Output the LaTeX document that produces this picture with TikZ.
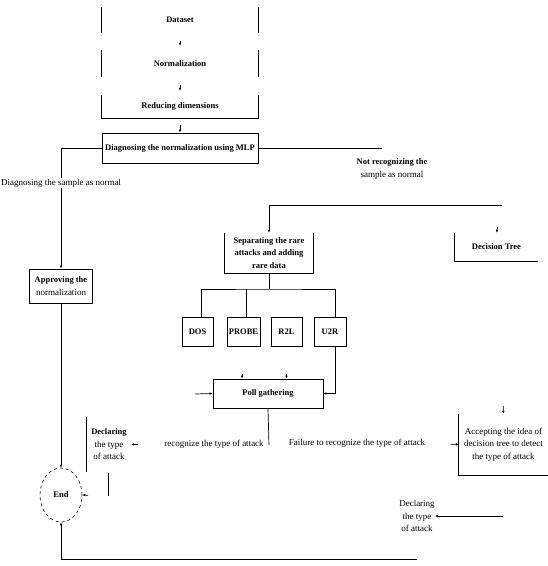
\documentclass[tikz,border=0pt]{standalone}
\usepackage{fontspec}
\setmainfont{Liberation Serif}
\usetikzlibrary{shapes.geometric,arrows.meta}
\newcommand\mdt{\fontsize{9}{12.5}\selectfont\mdseries}
\begin{document}
\begin{tikzpicture}[x=1pt,y=-1pt,
  every node/.style={font=\fontsize{8.5}{12.5}\selectfont\bfseries, inner sep=0pt, align=center},
  box/.style={minimum width=#1, rectangle},
  fullbox/.style={draw, line width=0.9pt},
  ln/.style={line width=0.7pt},
  arr/.style={ln, -{Latex[length=3pt,width=2.6pt]}},
  lbl/.style={fill=white, inner sep=1pt}
]
\useasboundingbox[fill=white] (0,0) rectangle (548,566);

% top stack
\node[box=156pt, minimum height=26pt] (ds) at (180,20) {Dataset};
\node[box=156pt, minimum height=27pt] (nm) at (180,63.5) {Normalization};
\node[box=156pt, minimum height=23pt] (rd) at (180,106.5) {Reducing dimensions};
\draw[ln] (ds.north west) -- (ds.south west) (ds.north east) -- (ds.south east);
\draw[ln] (nm.north west) -- (nm.south west) (nm.north east) -- (nm.south east);
\draw[ln] (rd.north west) -- (rd.south west) -- (rd.south east) -- (rd.north east);
\draw[arr, shorten <=8pt, shorten >=4pt] (ds.south) -- (nm.north);
\draw[arr, shorten <=8pt, shorten >=4pt] (nm.south) -- (rd.north);

% MLP
\node[box=156pt, minimum height=30pt, fullbox] (mlp) at (180,148)
  {Diagnosing the normalization using MLP};
\draw[arr, shorten <=7pt] (rd.south) -- (mlp.north);

% left branch
\node[box=63pt, minimum height=34pt, fullbox] (app) at (61,286) {Approving the\\\mdt normalization};
\draw[arr] (mlp.west) -| (app.north);
\node[lbl, font=\mdt] (l1) at (61,183) {Diagnosing the sample as normal};

\node[ellipse, draw, dashed, line width=0.6pt, minimum width=42pt, minimum height=54pt] (end) at (61,495) {End};
\draw[arr] (app.south) -- (end.north);

% right line of MLP
\coordinate (mr) at (382,148);
\draw[ln] (mlp.east) -- (mr);
\node (l2) at (392,169) {Not recognizing the\\\mdt sample as normal};

% top right line
\coordinate (tr) at (502,205);
\node[box=88pt, minimum height=40pt] (sep) at (269,253) {Separating the rare\\attacks and adding\\rare data};
\draw[ln] (sep.north west) -- (sep.south west) -- (sep.south east) -- (sep.north east);
\draw[arr] (tr) -| (sep.north);

\node[box=83pt, minimum height=28pt] (dt) at (496.5,247) {Decision Tree};
\draw[ln] (dt.north west) -- (dt.south west) -- (dt.south east);
\draw[arr, shorten <=22pt] (tr) -- (dt.north);

% attack boxes
\node[box=31pt, minimum height=29pt, fullbox, line width=0.7pt] (dos) at (197.5,331.5) {DOS};
\node[box=33pt, minimum height=29pt, fullbox, line width=0.7pt] (probe) at (243.5,331.5) {PROBE};
\node[box=31pt, minimum height=29pt, fullbox, line width=0.7pt] (r2l) at (286.5,331.5) {R2L};
\node[box=32pt, minimum height=29pt, fullbox, line width=0.7pt] (u2r) at (330,331.5) {U2R};
\coordinate (j) at (269,289);
\draw[ln] (sep.south) -- (j);
\draw[ln] ([xshift=3.5pt]dos.north) |- (j) -| ([xshift=5pt]u2r.north);
\draw[ln] ([xshift=2.5pt]probe.north) -- ([xshift=2.5pt]probe.north |- j);

% poll gathering
\node[box=110pt, minimum height=29pt, fullbox] (poll) at (268,393.5) {Poll gathering};
\coordinate (pl) at (195,394);
\draw[arr] (pl) -- (poll.west);
\draw[arr] ([xshift=5pt]u2r.south) |- (poll.east);
\draw[arr, shorten <=28pt] ([xshift=-1.5pt]probe.south) -- ([xshift=-1.5pt]probe.south |- poll.north);
\draw[arr, shorten <=28pt] (r2l.south) -- (r2l.south |- poll.north);

% declaring (left)
\node[box=44pt, minimum height=55pt] (dec1) at (109,444.5) {Declaring\\\mdt the type\\\mdt of attack};
\draw[line width=1.2pt] (dec1.north west) -- (dec1.south west);
\coordinate (v1) at (108,473);
\coordinate (v2) at (108,496);
\draw[ln] (v1) -- (v2);
\draw[arr, shorten <=20pt] (v2) -- (end.east);

\node[font=\mdt] (rec) at (214,444) {recognize the type of attack};
\draw[arr, shorten <=26pt] (rec.west) -- (dec1.east);
\coordinate (pc) at (269,445);
\draw[ln] (poll.south) -- (pc);

% accepting
\node[box=89pt, minimum height=61pt, font=\mdt] (acc) at (503.5,444.5) {Accepting the idea of\\decision tree to detect\\the type of attack};
\draw[ln] (acc.north west) -- (acc.south west) -- (acc.south east);
\draw[arr, shorten <=145pt] (dt.south) -- (acc.north);
\node[font=\mdt] (fail) at (357,443) {Failure to recognize the type of attack};
\draw[arr, shorten <=25pt] (fail.east) -- (acc.west);

% declaring (right)
\node[font=\mdt] (dec2) at (417,516) {Declaring\\the type\\of attack};
\coordinate (dr) at (503,516);
\draw[arr] (dr) -- (dec2.east);

% bottom return
\coordinate (br) at (417,559);
\coordinate (bl) at (61,559);
\draw[ln] (br) -- (bl);
\draw[arr] (bl) -- (end.south);
\end{tikzpicture}
\end{document}
